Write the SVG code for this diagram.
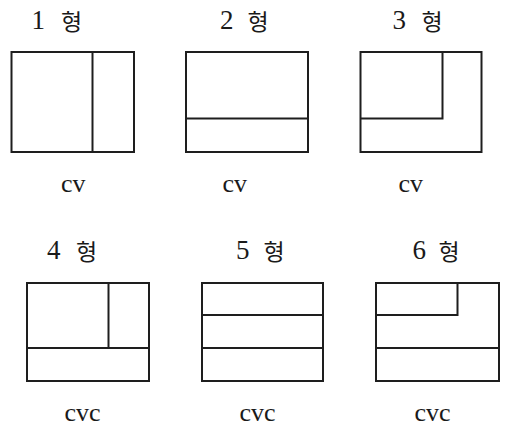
<svg xmlns="http://www.w3.org/2000/svg" width="505" height="427" viewBox="0 0 505 427">
<style>
.box{fill:none;stroke:#1e1e1e;stroke-width:2}
.ln{stroke:#1e1e1e;stroke-width:2;fill:none}
.num{font-family:"Liberation Serif",serif;font-size:27px;fill:#1a1a1a}
.ko{font-family:"Noto Sans CJK KR",sans-serif;font-size:23px;fill:#1a1a1a}
.lab{font-family:"Liberation Serif",serif;font-size:26px;fill:#1a1a1a}
</style>
<rect width="505" height="427" fill="#fff"/>
<g id="type1">
<text class="num" x="31.5" y="29">1</text><text class="ko" x="61" y="29.5">형</text>
<rect class="box" x="11.5" y="52" width="122.5" height="100"/>
<line class="ln" x1="92.5" y1="52" x2="92.5" y2="152"/>
<text class="lab" x="61" y="192">cv</text>
</g>
<g id="type2">
<text class="num" x="220" y="29">2</text><text class="ko" x="247.5" y="29.5">형</text>
<rect class="box" x="186" y="52" width="122" height="100"/>
<line class="ln" x1="186" y1="118.5" x2="308" y2="118.5"/>
<text class="lab" x="222.5" y="192">cv</text>
</g>
<g id="type3">
<text class="num" x="392.5" y="29">3</text><text class="ko" x="421.5" y="29.5">형</text>
<rect class="box" x="360.5" y="52" width="121" height="100"/>
<polyline class="ln" points="442.5,52 442.5,118.5 360.5,118.5"/>
<text class="lab" x="398.5" y="192">cv</text>
</g>
<g id="type4">
<text class="num" x="47" y="259">4</text><text class="ko" x="76" y="259.5">형</text>
<rect class="box" x="27" y="283" width="122" height="98"/>
<line class="ln" x1="27" y1="348" x2="149" y2="348"/>
<line class="ln" x1="108.5" y1="283" x2="108.5" y2="348"/>
<text class="lab" x="64.5" y="421">cvc</text>
</g>
<g id="type5">
<text class="num" x="236" y="259">5</text><text class="ko" x="263.5" y="259.5">형</text>
<rect class="box" x="202" y="283" width="121" height="98"/>
<line class="ln" x1="202" y1="315" x2="323" y2="315"/>
<line class="ln" x1="202" y1="348" x2="323" y2="348"/>
<text class="lab" x="239.5" y="421">cvc</text>
</g>
<g id="type6">
<text class="num" x="412.5" y="259">6</text><text class="ko" x="438.5" y="259.5">형</text>
<rect class="box" x="376" y="283" width="123" height="98"/>
<line class="ln" x1="376" y1="348" x2="499" y2="348"/>
<polyline class="ln" points="457.5,283 457.5,315 376,315"/>
<text class="lab" x="414.5" y="421">cvc</text>
</g>
<g id="connectors"/>
</svg>
